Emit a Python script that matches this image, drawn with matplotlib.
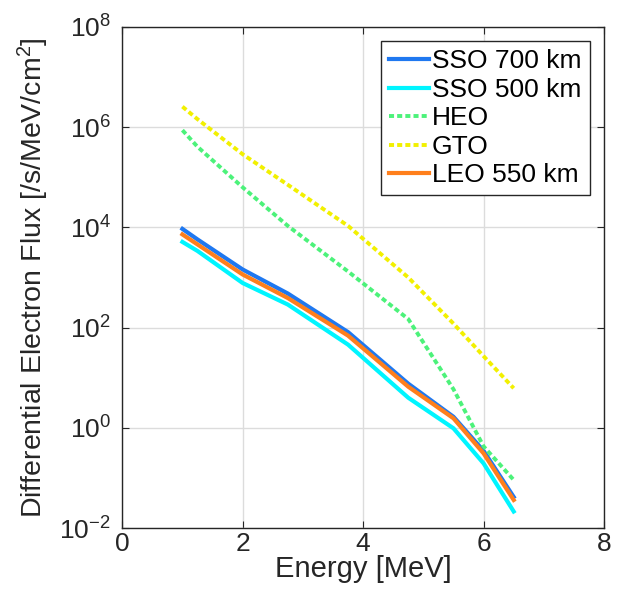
import numpy as np
import matplotlib
matplotlib.use('Agg')
import matplotlib.pyplot as plt
from matplotlib.ticker import LogLocator, NullLocator

plt.rcParams['font.family'] = ['Liberation Sans', 'DejaVu Sans']
plt.rcParams['mathtext.fontset'] = 'custom'
plt.rcParams['mathtext.rm'] = 'Liberation Sans'
plt.rcParams['mathtext.it'] = 'Liberation Sans:italic'

# electron energies [MeV]
energy = [1, 1.25, 2, 2.75, 3.75, 4.75, 5.5, 6, 6.5]

# log10 of differential flux for each orbit
sso700 = [3.97, 3.76, 3.16, 2.68, 1.91, 0.88, 0.22, -0.46, -1.38]
sso500 = [3.71, 3.53, 2.89, 2.46, 1.66, 0.60, -0.01, -0.71, -1.67]
heo = [5.94, 5.61, 4.80, 4.03, 3.12, 2.17, 0.77, -0.37, -1.04]
gto = [6.41, 6.16, 5.46, 4.85, 4.03, 3.00, 2.08, 1.43, 0.79]
leo550 = [3.86, 3.66, 3.06, 2.59, 1.84, 0.82, 0.19, -0.51, -1.44]

labels = ['SSO 700 km', 'SSO 500 km', 'HEO', 'GTO', 'LEO 550 km']

fig = plt.figure(figsize=(6.17, 5.99), dpi=100)
ax = fig.add_axes([0.198, 0.1185, 0.781, 0.8365])

dash = (0, (1.3, 0.8))
ax.plot(energy, 10**np.array(sso700), color='#1f78f0', lw=3, label=labels[0])
ax.plot(energy, 10**np.array(sso500), color='#00f5ff', lw=3, label=labels[1])
ax.plot(energy, 10**np.array(heo), color='#4cf27a', lw=2.8, ls=dash, label=labels[2])
ax.plot(energy, 10**np.array(gto), color='#f2f000', lw=2.8, ls=dash, label=labels[3])
ax.plot(energy, 10**np.array(leo550), color='#ff7f1c', lw=3, label=labels[4])

ax.set_yscale('log')
ax.set_xlim(0, 8)
ax.set_ylim(1e-2, 1e8)
ax.set_xticks([0, 2, 4, 6, 8])
ax.yaxis.set_major_locator(LogLocator(base=100))
ax.yaxis.set_minor_locator(NullLocator())

ax.grid(True, color='#dcdcdc', lw=1)
ax.set_axisbelow(True)
ax.tick_params(direction='in', top=True, right=True, length=5,
               labelsize=19, colors='#262626')
ax.tick_params(axis='x', pad=3)
ax.tick_params(axis='y', pad=8)
for s in ax.spines.values():
    s.set_color('#262626')
    s.set_linewidth(1)

ax.set_xlabel('Energy [MeV]', fontsize=21, color='#262626', labelpad=-1)
ax.set_ylabel('Differential Electron Flux [/s/MeV/cm$^2$]', fontsize=20.5,
              color='#262626', labelpad=6)

leg = ax.legend(loc='upper right', fontsize=19, handlelength=1.55,
                handletextpad=0.1, borderpad=0.3, labelspacing=0.17,
                fancybox=False, framealpha=1, borderaxespad=0.55)
leg.get_frame().set_edgecolor('#262626')
leg.get_frame().set_linewidth(1)

fig.savefig('out.png', dpi=100)
